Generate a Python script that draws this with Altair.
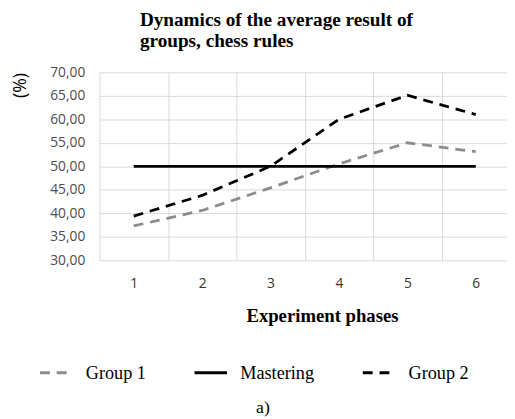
import altair as alt
import pandas as pd

phases = [1, 2, 3, 4, 5, 6]
group1 = [37.3, 40.6, 45.4, 50.5, 55.0, 53.1]
mastering = [50.0, 50.0, 50.0, 50.0, 50.0, 50.0]
group2 = [39.4, 43.8, 50.0, 60.0, 65.1, 61.0]
series_names = ["Group 1", "Mastering", "Group 2"]
series_colors = ["#8c8c8c", "#000000", "#000000"]
series_dash = [[10, 7], [1, 0], [10, 7]]

rows = []
for name, vals in zip(series_names, [group1, mastering, group2]):
    for p, v in zip(phases, vals):
        rows.append({"phase": p, "value": v, "series": name})
df = pd.DataFrame(rows)

legend_cfg = dict(title=None, orient="none", direction="horizontal",
                  legendX=-62, legendY=287, symbolType="stroke",
                  symbolSize=1089, symbolStrokeWidth=3,
                  labelFont="Liberation Serif", labelFontSize=18.5,
                  labelColor="#000000", labelOffset=12, columnPadding=42)

lines = alt.Chart(df).mark_line(strokeWidth=2.8).encode(
    x=alt.X("phase:O", scale=alt.Scale(range=[0, 417], paddingInner=0, paddingOuter=0),
            axis=alt.Axis(title="Experiment phases", labelAngle=0, tickBand="extent",
                          labelFont="Open Sans", labelFontSize=14, labelColor="#333333",
                          labelPadding=17, ticks=False, domain=False,
                          grid=True, gridColor="#d9d9d9",
                          titleFont="Liberation Serif", titleFontSize=19, titleFontWeight="bold",
                          titleColor="#000000", titleX=226, titleY=62, titleAlign="center",
                          titleBaseline="alphabetic")),
    y=alt.Y("value:Q", scale=alt.Scale(domain=[30, 70], nice=False, zero=False),
            axis=alt.Axis(title="(%)", values=[30, 35, 40, 45, 50, 55, 60, 65, 70],
                          labelExpr="replace(format(datum.value, '.2f'), '.', ',')",
                          labelFont="Open Sans", labelFontSize=14, labelColor="#4d4d4d",
                          labelPadding=15, ticks=False, domain=False,
                          gridColor="#d9d9d9",
                          titleFont="Open Sans", titleFontSize=18, titleFontWeight="normal",
                          titleColor="#000000", titleX=-80, titleY=13, titleAngle=270,
                          titleAlign="center", titleBaseline="middle")),
    color=alt.Color("series:N", scale=alt.Scale(domain=series_names, range=series_colors),
                    legend=alt.Legend(**legend_cfg)),
    strokeDash=alt.StrokeDash("series:N", scale=alt.Scale(domain=series_names, range=series_dash),
                              legend=alt.Legend(**legend_cfg)),
)

note = alt.Chart(pd.DataFrame({"t": ["a)"]})).mark_text(
    font="Liberation Serif", fontSize=18, color="#000000", align="center", baseline="alphabetic"
).encode(text="t:N", x=alt.value(166), y=alt.value(346))

chart = alt.layer(lines, note).properties(
    width=414, height=191,
    autosize=alt.AutoSizeParams(type="none"),
    padding={"left": 93, "top": 62, "right": 0, "bottom": 158},
    title=alt.TitleParams(text=["Dynamics of the average result of", "groups, chess rules"],
                          anchor="start", frame="group", dx=41, offset=14,
                          font="Liberation Serif", fontSize=19.5, fontWeight="bold",
                          color="#000000", lineHeight=22),
).configure_view(stroke=None)

chart.save("out.html", embed_options={"renderer": "svg", "actions": False})
